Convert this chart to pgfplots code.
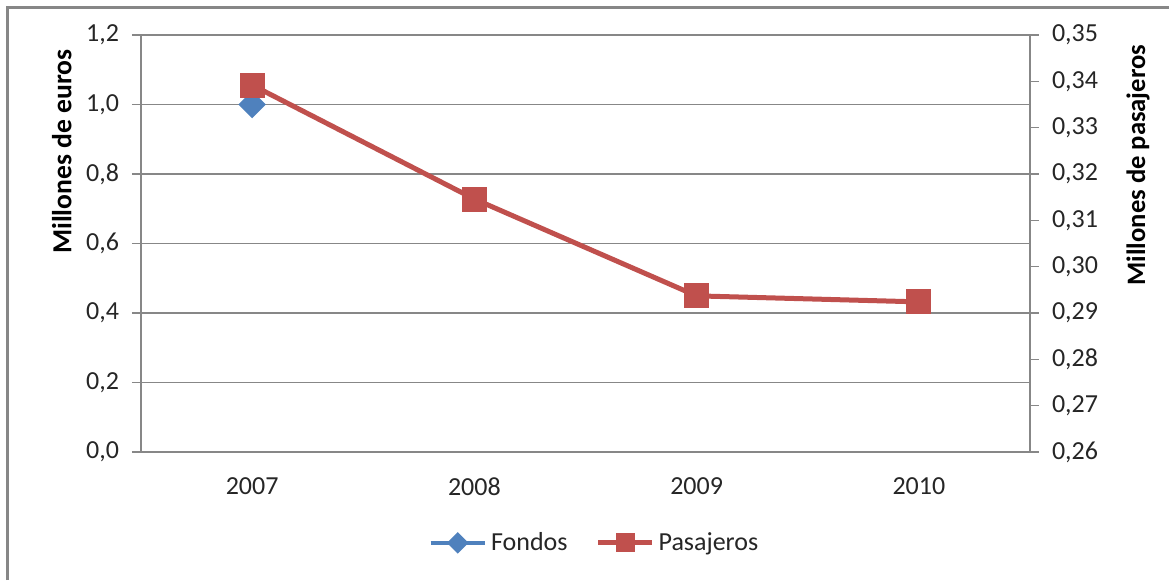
\documentclass[border=0pt]{standalone}
\usepackage{pgfplots}
\pgfplotsset{compat=1.18}
\usepackage{fontspec}
\setmainfont{Carlito}[BoldFont={Carlito Bold}]
\definecolor{fblue}{HTML}{4F81BD}
\definecolor{pred}{HTML}{C0504D}
\definecolor{gridc}{HTML}{878787}
\definecolor{txt}{HTML}{262626}
\pgfplotsset{
  common/.style={
    scale only axis,
    width=444.5pt, height=208.5pt,
    at={(0,0)}, anchor=south west,
    xmin=-0.5, xmax=3.5,
    tick align=outside,
    major tick length=4.5pt,
    tick style={gridc, line width=0.75pt},
    axis line style={gridc, line width=0.75pt},
    tick label style={font=\fontsize{13}{15}\selectfont, text=txt},
    /pgf/number format/assume math mode=true,
    /pgf/number format/use comma,
    /pgf/number format/fixed,
    /pgf/number format/fixed zerofill,
    legend image code/.code={\draw[mark repeat=2,mark phase=2,##1,/tikz/every mark/.append style={scale=0.7}] plot coordinates {(0pt,0pt) (13.5pt,0pt) (27pt,0pt)};},
  }
}
\begin{document}
\begin{tikzpicture}
\useasboundingbox (-70.5pt,-64pt) rectangle (514pt,226pt);
\draw[gridc, line width=1.5pt] (-66.5pt,-64pt) -- (-66.5pt,222.5pt) -- (514pt,222.5pt);
\begin{axis}[
  common,
  axis y line*=left, axis x line*=bottom,
  ymin=0, ymax=1.2, ytick={0,0.2,...,1.2},
  /pgf/number format/precision=1,
  xtick={0,1,2,3}, xticklabels={2007,2008,2009,2010},
  x tick style={draw=none},
  xticklabel style={yshift=-5pt},
  yticklabel style={xshift=-3pt},
  ymajorgrids, grid style={gridc, line width=0.75pt},
  ylabel={\textbf{Millones de euros}},
  every axis y label/.style={at={(axis description cs:-0.089,0.72)}, rotate=90, anchor=center, font=\bfseries\fontsize{13.8}{16}\selectfont},
]
\addplot[fblue, line width=2.4pt, mark=square*, mark size=3.7pt, mark options={solid, rotate=45}]
  coordinates {(0,1.0)};
\end{axis}
\begin{axis}[
  common,
  axis y line*=right, axis x line=none,
  ymin=0.26, ymax=0.35, ytick={0.26,0.27,...,0.35},
  /pgf/number format/precision=2,
  yticklabel style={xshift=3pt},
  ylabel={\textbf{Millones de pasajeros}},
  every axis y label/.style={at={(axis description cs:1.1215,0.688)}, rotate=90, anchor=center, font=\bfseries\fontsize{13.3}{16}\selectfont},
  legend style={at={(axis description cs:0.511,-0.218)}, anchor=center, draw=none,
    font=\fontsize{13}{15}\selectfont, text=txt, /tikz/every even column/.append style={column sep=12pt}},
  legend columns=2,
]
\addlegendimage{fblue, line width=2.4pt, mark=square*, mark size=3.7pt, mark options={solid, rotate=45}}
\addlegendentry{Fondos}
\addplot[pred, line width=2.5pt, mark=square*, mark size=5pt]
  coordinates {(0,0.3392) (1,0.3146) (2,0.2937) (3,0.2924)};
\addlegendentry{Pasajeros}
\end{axis}
\end{tikzpicture}
\end{document}
